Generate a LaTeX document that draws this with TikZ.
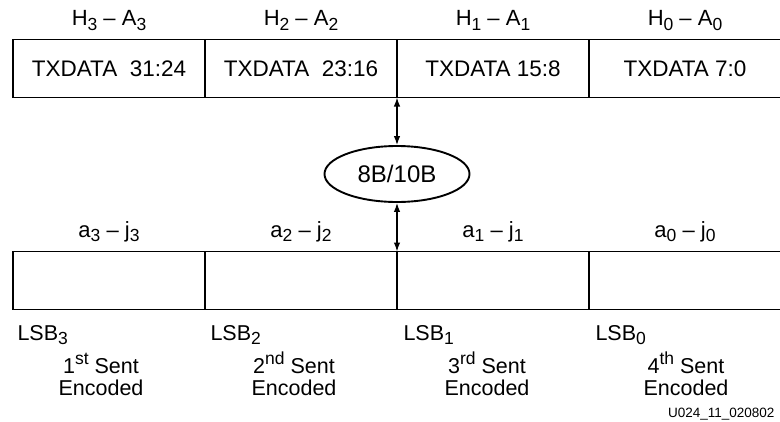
\documentclass[tikz,border=0pt]{standalone}
\usepackage{fontspec}
\setmainfont{Liberation Sans}
\usetikzlibrary{arrows.meta,positioning,shapes.geometric}
\newcommand\idx[1]{\raisebox{-.22em}{\fontsize{17.5}{17.5}\selectfont #1}}
\newcommand\ord[1]{\raisebox{.38em}{\fontsize{17.5}{17.5}\selectfont #1}}

\begin{document}
\begin{tikzpicture}[x=1pt,y=-1pt,
    bytebox/.style={draw,line width=1.9pt,minimum width=192pt,minimum height=58pt,
      inner sep=0pt,outer sep=0pt,font=\fontsize{22.5}{26}\selectfont},
    fieldlbl/.style={anchor=base,font=\fontsize{22}{26}\selectfont},
    lsblbl/.style={anchor=base west,font=\fontsize{21.5}{24}\selectfont},
    sentlbl/.style={anchor=base,align=center,font=\fontsize{21.5}{22}\selectfont},
    biarrow/.style={line width=1.3pt,{Latex[length=9pt,width=6.5pt]}-{Latex[length=9pt,width=6.5pt]}}]
  \useasboundingbox (0,0) rectangle (780,421);

  \node[bytebox] (t3) at (109,68.5) {TXDATA\ \ 31:24};
  \node[bytebox,right=0pt of t3] (t2) {TXDATA\ \ 23:16};
  \node[bytebox,right=0pt of t2] (t1) {TXDATA 15:8};
  \node[bytebox,right=0pt of t1] (t0) {TXDATA 7:0};

  \node[fieldlbl] (h3) at (109,25.7) {H\idx{3} -- A\idx{3}};
  \node[fieldlbl] (h2) at (301,25.7) {H\idx{2} -- A\idx{2}};
  \node[fieldlbl] (h1) at (493,25.7) {H\idx{1} -- A\idx{1}};
  \node[fieldlbl] (h0) at (685,25.7) {H\idx{0} -- A\idx{0}};

  \node[draw,ellipse,line width=1.9pt,minimum width=145pt,minimum height=56pt,
    inner sep=0pt,font=\fontsize{24}{28}\selectfont] (enc) at (397,174) {8B/10B};

  \node[bytebox] (b3) at (109,280.5) {};
  \node[bytebox,right=0pt of b3] (b2) {};
  \node[bytebox,right=0pt of b2] (b1) {};
  \node[bytebox,right=0pt of b1] (b0) {};

  \node[fieldlbl] (a3) at (109,237) {a\idx{3} -- j\idx{3}};
  \node[fieldlbl] (a2) at (301,237) {a\idx{2} -- j\idx{2}};
  \node[fieldlbl] (a1) at (493,237) {a\idx{1} -- j\idx{1}};
  \node[fieldlbl] (a0) at (685,237) {a\idx{0} -- j\idx{0}};

  \draw[biarrow] (t1.south west) -- (enc.north);
  \draw[biarrow] (enc.south) -- (b1.north west);

  \node[lsblbl] (l3) at (14,340) {LSB\idx{3}};
  \node[lsblbl] (l2) at (207,340) {LSB\idx{2}};
  \node[lsblbl] (l1) at (400,340) {LSB\idx{1}};
  \node[lsblbl] (l0) at (592,340) {LSB\idx{0}};

  \node[sentlbl] (s3) at (101,395) {1\ord{st} Sent\\Encoded};
  \node[sentlbl] (s2) at (294,395) {2\ord{nd} Sent\\Encoded};
  \node[sentlbl] (s1) at (487,395) {3\ord{rd} Sent\\Encoded};
  \node[sentlbl] (s0) at (686,395) {4\ord{th} Sent\\Encoded};

  \node[anchor=base east,font=\fontsize{13.5}{15}\selectfont] (fig) at (778,417) {U024\_11\_020802};
\end{tikzpicture}
\end{document}
